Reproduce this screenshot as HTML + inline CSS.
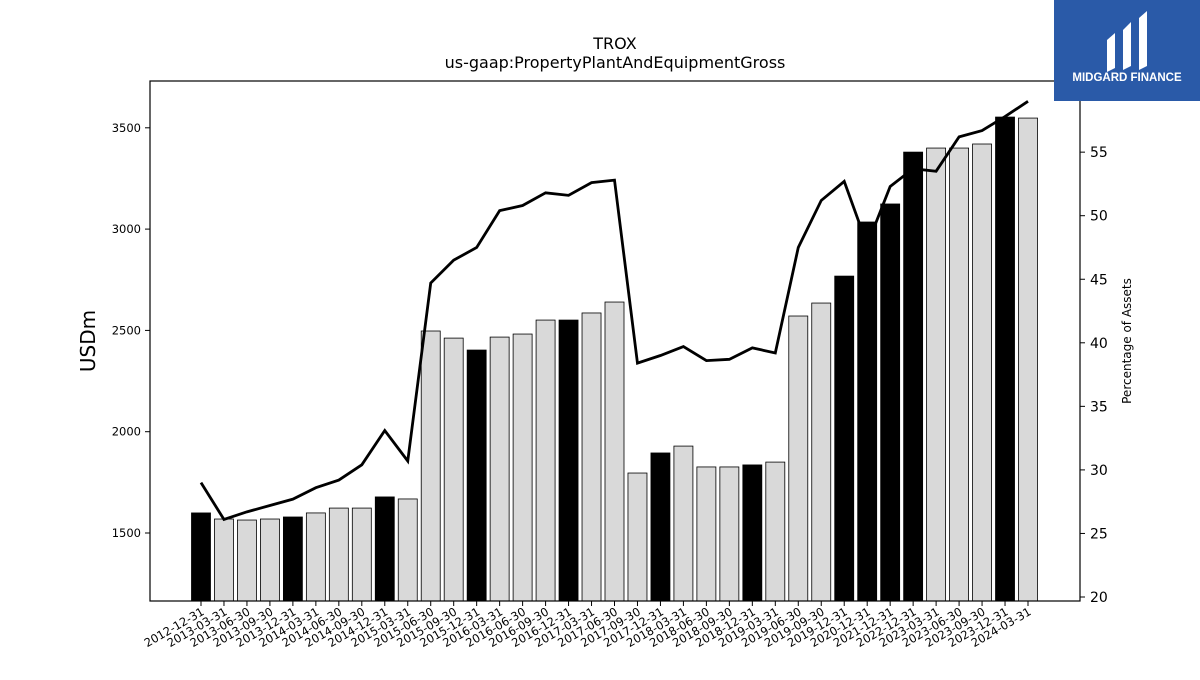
<!DOCTYPE html>
<html><head><meta charset="utf-8"><style>
body{margin:0;background:#fff;width:1200px;height:675px;overflow:hidden;font-family:"Liberation Sans","DejaVu Sans",sans-serif}
</style></head><body>
<svg id="chart" width="1200" height="675" xmlns="http://www.w3.org/2000/svg" font-family="DejaVu Sans, Liberation Sans, sans-serif">
<text x="615" y="49" text-anchor="middle" font-size="16">TROX</text>
<text x="615" y="68" text-anchor="middle" font-size="16">us-gaap:PropertyPlantAndEquipmentGross</text>
<g id="bars"></g><g id="line"></g><g id="axes"></g>
<rect x="150" y="81" width="930" height="520" fill="none" stroke="#000" stroke-width="1.2"/>
<text transform="translate(95,341) rotate(-90)" text-anchor="middle" font-size="20">USDm</text>
<text transform="translate(1131,341) rotate(-90)" text-anchor="middle" font-size="12">Percentage of Assets</text>
<g>
<rect x="1054" y="0" width="146" height="101" fill="#2a5aa8"/>
<path d="M1107 40 L1115 33 L1115 68 L1107 72 Z M1123 30 L1131 22 L1131 66 L1123 70 Z M1139 18 L1147 11 L1147 66 L1139 70 Z" fill="#fff"/>
<text x="1127" y="81" text-anchor="middle" font-size="11.5" font-weight="bold" fill="#fff" font-family="Liberation Sans, sans-serif">MIDGARD FINANCE</text>
</g>
</svg>
<script>
const categories=["2012-12-31","2013-03-31","2013-06-30","2013-09-30","2013-12-31","2014-03-31","2014-06-30","2014-09-30","2014-12-31","2015-03-31","2015-06-30","2015-09-30","2015-12-31","2016-03-31","2016-06-30","2016-09-30","2016-12-31","2017-03-31","2017-06-30","2017-09-30","2017-12-31","2018-03-31","2018-06-30","2018-09-30","2018-12-31","2019-03-31","2019-06-30","2019-09-30","2019-12-31","2020-12-31","2021-12-31","2022-12-31","2023-03-31","2023-06-30","2023-09-30","2023-12-31","2024-03-31"];
const ppeValues=[1599,1569,1564,1569,1579,1599,1623,1623,1678,1668,2497,2462,2403,2467,2482,2551,2551,2586,2640,1796,1895,1929,1826,1826,1836,1850,2571,2635,2768,3035,3124,3380,3400,3400,3420,3553,3548];
const pctValues=[29.0,26.1,26.7,27.2,27.7,28.6,29.2,30.4,33.1,30.7,44.7,46.5,47.5,50.4,50.8,51.8,51.6,52.6,52.8,38.4,39.0,39.7,38.6,38.7,39.6,39.2,47.5,51.2,52.7,47.7,52.3,53.7,53.5,56.2,56.7,57.8,59.0];
const leftTicks=[1500,2000,2500,3000,3500];
const rightTicks=[20,25,30,35,40,45,50,55];
const NS="http://www.w3.org/2000/svg";
const xS=i=>201+i*(1028-201)/(categories.length-1);
const yL=v=>533-(v-1500)*0.2026;
const yR=v=>597-(v-20)*12.71;
function mk(t,a,p){const e=document.createElementNS(NS,t);for(const k in a)e.setAttribute(k,a[k]);p.appendChild(e);return e;}
const bars=document.getElementById('bars'),line=document.getElementById('line'),axes=document.getElementById('axes');
ppeValues.forEach((v,i)=>{
  const black=categories[i].endsWith('12-31');
  const r=mk('rect',{x:xS(i)-9.5,y:yL(v),width:19,height:601-yL(v),fill:black?'#000':'#d9d9d9',stroke:'#000','stroke-width':0.8},bars);
  
  
  const tk=mk('line',{x1:xS(i),x2:xS(i),y1:601,y2:606,stroke:'#000'},axes);
  
  
  const t=mk('text',{transform:`translate(${xS(i)+4},${614}) rotate(-30)`,'text-anchor':'end','font-size':11.5},axes);
  t.textContent=categories[i];
  
  
});
const pl=mk('polyline',{points:pctValues.map((v,i)=>xS(i)+','+yR(v)).join(' '),fill:'none',stroke:'#000','stroke-width':2.8},line);


leftTicks.forEach(v=>{
  mk('line',{x1:145,x2:150,y1:yL(v),y2:yL(v),stroke:'#000'},axes);
  const t=mk('text',{x:141,y:yL(v)+4,'text-anchor':'end','font-size':11.5},axes);
  t.textContent=v;
  
  
});
rightTicks.forEach(v=>{
  mk('line',{x1:1080,x2:1085,y1:yR(v),y2:yR(v),stroke:'#000'},axes);
  const t=mk('text',{x:1090,y:yR(v)+5,'font-size':14},axes);
  t.textContent=v;
  
  
});
</script>
</body></html>
